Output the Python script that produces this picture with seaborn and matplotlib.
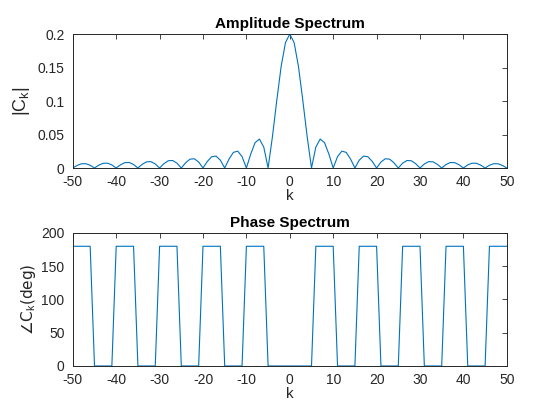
import numpy as np
import pandas as pd
import matplotlib
matplotlib.use('Agg')
import matplotlib.pyplot as plt
import seaborn as sns

# harmonic index
k = list(range(-50, 51))

# |C_k|, k = -50 .. 50
amplitude = [
    0.0000, 0.0038, 0.0063, 0.0064, 0.0041,
    0.0000, 0.0043, 0.0070, 0.0072, 0.0046,
    0.0000, 0.0048, 0.0080, 0.0082, 0.0052,
    0.0000, 0.0055, 0.0092, 0.0095, 0.0060,
    0.0000, 0.0065, 0.0108, 0.0112, 0.0072,
    0.0000, 0.0078, 0.0132, 0.0138, 0.0089,
    0.0000, 0.0098, 0.0168, 0.0178, 0.0117,
    0.0000, 0.0134, 0.0233, 0.0252, 0.0170,
    0.0000, 0.0208, 0.0378, 0.0432, 0.0312,
    0.0000, 0.0468, 0.1009, 0.1514, 0.1871,
    0.2000,
    0.1871, 0.1514, 0.1009, 0.0468, 0.0000,
    0.0312, 0.0432, 0.0378, 0.0208, 0.0000,
    0.0170, 0.0252, 0.0233, 0.0134, 0.0000,
    0.0117, 0.0178, 0.0168, 0.0098, 0.0000,
    0.0089, 0.0138, 0.0132, 0.0078, 0.0000,
    0.0072, 0.0112, 0.0108, 0.0065, 0.0000,
    0.0060, 0.0095, 0.0092, 0.0055, 0.0000,
    0.0052, 0.0082, 0.0080, 0.0048, 0.0000,
    0.0046, 0.0072, 0.0070, 0.0043, 0.0000,
    0.0041, 0.0064, 0.0063, 0.0038, 0.0000,
]

# angle of C_k in degrees, k = -50 .. 50
phase = [
    180, 180, 180, 180, 180, 0, 0, 0, 0, 0,
    180, 180, 180, 180, 180, 0, 0, 0, 0, 0,
    180, 180, 180, 180, 180, 0, 0, 0, 0, 0,
    180, 180, 180, 180, 180, 0, 0, 0, 0, 0,
    180, 180, 180, 180, 180,
    0, 0, 0, 0, 0, 0, 0, 0, 0, 0, 0,
    180, 180, 180, 180, 180, 0, 0, 0, 0, 0,
    180, 180, 180, 180, 180, 0, 0, 0, 0, 0,
    180, 180, 180, 180, 180, 0, 0, 0, 0, 0,
    180, 180, 180, 180, 180, 0, 0, 0, 0, 0,
    180, 180, 180, 180, 180,
]

xticks = [-50, -40, -30, -20, -10, 0, 10, 20, 30, 40, 50]
amp_ticks = [0, 0.05, 0.1, 0.15, 0.2]
amp_labels = ['0', '0.05', '0.1', '0.15', '0.2']
phase_ticks = [0, 50, 100, 150, 200]

df = pd.DataFrame({'k': k, 'amp': amplitude, 'phase': phase})

sns.set_theme(style='white')
plt.rcParams['font.family'] = ['Liberation Sans', 'DejaVu Sans']
plt.rcParams['mathtext.fontset'] = 'custom'
plt.rcParams['mathtext.rm'] = 'Liberation Sans'

dark = '#262626'
blue = '#0072BD'

fig = plt.figure(figsize=(5.6, 4.2), dpi=100)
ax1 = fig.add_axes([0.13, 0.6, 0.775, 0.319])
ax2 = fig.add_axes([0.13, 0.1286, 0.775, 0.3167])


def style_axes(ax):
    for s in ax.spines.values():
        s.set_color(dark)
        s.set_linewidth(0.7)
    ax.tick_params(direction='in', top=True, right=True, length=3.5,
                   width=0.6, color=dark, labelcolor=dark, labelsize=10)
    ax.tick_params(axis='x', pad=5)
    ax.tick_params(axis='y', pad=6)
    ax.set_xlim(-50, 50)
    ax.set_xticks(xticks)
    ax.set_xticklabels([str(t) for t in xticks])
    ax.set_xlabel('k', fontsize=11, color=dark, labelpad=0)


sns.lineplot(data=df, x='k', y='amp', ax=ax1, color=blue, linewidth=0.8)
style_axes(ax1)
ax1.set_ylim(0, 0.2)
ax1.set_yticks(amp_ticks)
ax1.set_yticklabels(amp_labels)
ax1.set_ylabel(r'|C$_\mathrm{k}$|', fontsize=13, color=dark, labelpad=4)
ax1.set_title('Amplitude Spectrum', fontsize=11, fontweight='bold',
              color='black', pad=4)

sns.lineplot(data=df, x='k', y='phase', ax=ax2, color=blue, linewidth=0.8)
style_axes(ax2)
ax2.set_ylim(0, 200)
ax2.set_yticks(phase_ticks)
ax2.set_yticklabels([str(t) for t in phase_ticks])
# the angle sign is only in DejaVu Sans
ax2.set_ylabel('∠C$_\\mathrm{k}$(deg)', fontsize=11, color=dark, labelpad=2,
               family='DejaVu Sans')
ax2.set_title('Phase Spectrum', fontsize=11, fontweight='bold',
              color='black', pad=4)

fig.savefig('out.png', dpi=100)
